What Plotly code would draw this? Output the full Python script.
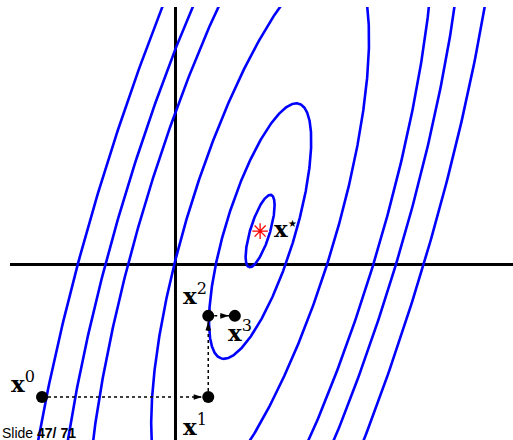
import numpy as np
import plotly.graph_objects as go

# ---- data ----
# quadratic f(x) = (x - x*)^T A (x - x*)
center_x = 2.56
center_y = 0.99
A_11 = 1.0
A_12 = -0.283
A_22 = 0.160
levels = [0.095, 1.18, 5.36, 13.68, 19.17, 27.13]

# coordinate-descent iterates
iter_names = ["0", "1", "2", "3"]
iter_x = [-4.0, 1.0, 1.0, 1.80]
iter_y = [-4.0, -4.0, -1.56, -1.56]

slide_text = "Slide <b>47/ 71</b>"

# ---- build figure ----
fig = go.Figure()

A = np.array([[A_11, A_12], [A_12, A_22]])
lam, V = np.linalg.eigh(A)
t = np.linspace(0, 2 * np.pi, 721)
circle = np.vstack([np.cos(t), np.sin(t)])
for c in levels:
    d = V @ (np.sqrt(c / lam)[:, None] * circle)
    fig.add_trace(go.Scatter(
        x=center_x + d[0], y=center_y + d[1], mode="lines",
        line=dict(color="#0000ff", width=2.6), hoverinfo="skip",
        showlegend=False))

# dotted moves
for i in range(len(iter_x) - 1):
    fig.add_trace(go.Scatter(
        x=[iter_x[i], iter_x[i + 1]], y=[iter_y[i], iter_y[i + 1]],
        mode="lines", line=dict(color="black", width=1.5, dash="dot"),
        showlegend=False, hoverinfo="skip"))

# arrow heads
angles = []
for i in range(1, len(iter_x)):
    dx = iter_x[i] - iter_x[i - 1]
    dy = iter_y[i] - iter_y[i - 1]
    angles.append(90 if abs(dx) > abs(dy) else 0)
fig.add_trace(go.Scatter(
    x=iter_x[1:], y=iter_y[1:], mode="markers",
    marker=dict(symbol="arrow", size=9, color="black", angle=angles,
                standoff=6, line=dict(width=0)),
    showlegend=False, hoverinfo="skip"))

# iterate dots
fig.add_trace(go.Scatter(
    x=iter_x, y=iter_y, mode="markers",
    marker=dict(symbol="circle", size=12, color="black"),
    showlegend=False, hoverinfo="skip"))

# optimum
fig.add_trace(go.Scatter(
    x=[center_x], y=[center_y], mode="markers",
    marker=dict(symbol="asterisk-open", size=13, color="red",
                line=dict(color="red", width=1.3)),
    showlegend=False, hoverinfo="skip"))

label_font = dict(family="DejaVu Serif", size=23, color="black")
shifts = [(-19, 15), (-13, -28), (-13, 22), (5, -15)]
for name, x, y, (sx, sy) in zip(iter_names, iter_x, iter_y, shifts):
    fig.add_annotation(x=x, y=y, text="<b>x</b><sup>%s</sup>" % name,
                       showarrow=False, xshift=sx, yshift=sy, font=label_font)
fig.add_annotation(x=center_x, y=center_y,
                   text="<b>x</b><sup><span style='font-size:10px'>★</span></sup>",
                   showarrow=False, xshift=25, yshift=3, font=label_font)

fig.add_annotation(xref="paper", yref="paper", x=0, y=0, xanchor="left",
                   yanchor="bottom", text=slide_text, showarrow=False,
                   xshift=-10, yshift=-3,
                   font=dict(family="Liberation Sans", size=14, color="black"))

s = 33.25
fig.update_layout(
    width=513, height=440,
    margin=dict(l=10, r=0, t=7, b=0),
    paper_bgcolor="white", plot_bgcolor="white",
    xaxis=dict(range=[(10 - 175) / s, (513 - 175) / s], showgrid=False,
               showticklabels=False, ticks="", zeroline=True,
               zerolinecolor="black", zerolinewidth=2.5, fixedrange=True),
    yaxis=dict(range=[(264 - 440) / s, (264 - 7) / s], showgrid=False,
               showticklabels=False, ticks="", zeroline=True,
               zerolinecolor="black", zerolinewidth=2.5, fixedrange=True),
)
fig.write_html("out.html", config={"displayModeBar": False},
               post_script="document.body.style.margin='0px';"
                           "document.body.style.overflow='hidden';")
